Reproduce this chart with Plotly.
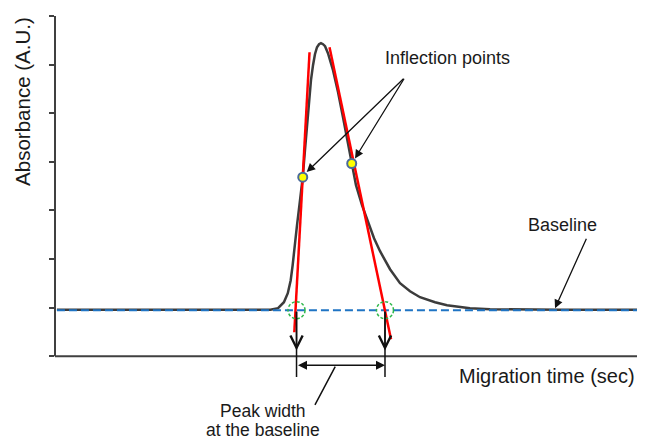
import plotly.graph_objects as go

# ---- data (time in arbitrary s, absorbance in A.U.) ----
time = [0.2, 4.6, 9.8, 15.0, 20.1, 22.2, 23.0, 23.6, 24.0, 24.3, 24.5, 24.7, 24.95,
        25.26, 25.54, 25.77, 25.98, 26.19, 26.39, 26.6, 26.8, 27.01, 27.22, 27.42,
        27.63, 27.84, 28.14, 28.66, 29.18, 29.69, 30.1, 30.59, 31.03, 31.65, 32.27,
        32.89, 33.51, 34.54, 35.57, 36.6, 37.63, 39.18, 40.41, 42.78, 44.85, 47.94,
        52.06, 56.19, 60.0]
absorbance = [0.955, 0.96, 0.952, 0.958, 0.955, 0.957, 0.988, 1.111, 1.296, 1.564,
              1.872, 2.284, 2.695, 3.21, 3.683, 4.239, 4.753, 5.267, 5.679, 5.988,
              6.214, 6.358, 6.42, 6.44, 6.42, 6.379, 6.235, 5.885, 5.432, 4.918,
              4.486, 3.965, 3.519, 3.107, 2.757, 2.428, 2.16, 1.79, 1.502, 1.337,
              1.214, 1.111, 1.049, 0.988, 0.967, 0.96, 0.955, 0.958, 0.955]
baseline_level = 0.947
baseline_span = [0.2, 60.0]

inflection_t = [25.54, 30.59]
inflection_a = [3.683, 3.965]

tangent_left_t = [26.24, 24.67]
tangent_left_a = [6.255, 0.494]
tangent_right_t = [28.3, 34.64]
tangent_right_a = [6.358, 0.35]

width_t = [24.9, 34.02]          # intersections of tangents with baseline
y_ticks = [0, 1, 2, 3, 4, 5, 6, 7]
x_range = [0, 60]
y_range = [-1.724, 7]            # extra room below the time axis for annotations

FONT = "Liberation Sans, Arial, sans-serif"
TXT = "#1a1a1a"
AX = "#404040"

fig = go.Figure()
fig.add_trace(go.Scatter(x=time, y=absorbance, mode="lines",
                         line=dict(color="#3c3c3c", width=2.5), hoverinfo="skip"))
fig.add_trace(go.Scatter(x=baseline_span, y=[baseline_level, baseline_level], mode="lines",
                         line=dict(color="#1f74c4", width=2, dash="8px,4px"), hoverinfo="skip"))
fig.add_trace(go.Scatter(x=tangent_left_t, y=tangent_left_a, mode="lines",
                         line=dict(color="#ff0000", width=2.5), hoverinfo="skip"))
fig.add_trace(go.Scatter(x=tangent_right_t, y=tangent_right_a, mode="lines",
                         line=dict(color="#ff0000", width=2.5), hoverinfo="skip"))
fig.add_trace(go.Scatter(x=inflection_t, y=inflection_a, mode="markers",
                         marker=dict(color="#ffff00", size=9,
                                     line=dict(color="#4a6a9a", width=2)),
                         hoverinfo="skip"))

# axis lines (the y range is extended below zero, so draw them explicitly)
zero_frac = (0 - y_range[0]) / (y_range[1] - y_range[0])
fig.add_shape(type="line", xref="paper", yref="paper", x0=0, x1=0, y0=zero_frac, y1=1,
              line=dict(color=AX, width=2))
fig.add_shape(type="line", xref="paper", yref="paper", x0=0, x1=1, y0=zero_frac, y1=zero_frac,
              line=dict(color=AX, width=2))

# green dashed circles at baseline intersections
for t in width_t:
    fig.add_shape(type="circle", xref="x", yref="y", xsizemode="pixel", ysizemode="pixel",
                  xanchor=t, yanchor=baseline_level, x0=-8.5, x1=8.5, y0=-8.5, y1=8.5,
                  line=dict(color="#2eb84a", width=1.5, dash="3px,2px"))

ann = []
def arrow(x, y, ax, ay, head=2, size=1, width=1.5):
    ann.append(dict(x=x, y=y, ax=ax, ay=ay, xref="x", yref="y", axref="x", ayref="y",
                    text="", showarrow=True, arrowhead=head, arrowsize=size,
                    arrowwidth=width, arrowcolor="#111111", standoff=0, startstandoff=0))

# vertical drop lines with open arrowheads
for t in width_t:
    arrow(t, -0.43, t, baseline_level, head=0, width=1.5)
    arrow(t, 0.12, t, baseline_level, head=5, size=1.6, width=1.5)
# horizontal double arrow (peak width)
ann.append(dict(x=width_t[1], y=-0.185, ax=width_t[0], ay=-0.185, xref="x", yref="y",
                axref="x", ayref="y", text="", showarrow=True, arrowhead=2, startarrowhead=2,
                arrowsize=1.2, startarrowsize=1.2, arrowwidth=1.5, arrowcolor="#111111",
                arrowside="end+start", standoff=0, startstandoff=0))
# leader to peak width label
arrow(26.8, -1.0, 28.97, -0.185, head=0, width=1.5)
# inflection arrows
arrow(25.95, 3.79, 36.08, 5.74, head=2, size=1.3, width=1.3)
arrow(30.93, 4.07, 36.08, 5.74, head=2, size=1.3, width=1.3)
# baseline arrow
arrow(51.55, 0.988, 54.85, 2.449, head=2, size=1.3, width=1.3)

def label(x, y, text, size=18, xref="x", angle=0):
    ann.append(dict(x=x, y=y, xref=xref, yref="y", text=text, showarrow=False,
                    textangle=angle, font=dict(family=FONT, size=size, color=TXT),
                    xanchor="center", yanchor="middle"))

label(40.5, 6.13, "Inflection points")
label(52.27, 2.7, "Baseline")
label(21.44, -1.132, "Peak width", size=17.5)
label(21.44, -1.523, "at the baseline", size=17.5)
label(50.7, -0.40, "Migration time (sec)", size=20)
label(-0.057, 5.25, "Absorbance (A.U.)", size=20.5, xref="paper", angle=-90)

# page body has an 8px default margin, so the figure is offset by 8px
fig.update_layout(
    width=638, height=432,
    margin=dict(l=47, r=9, t=8, b=0),
    paper_bgcolor="white", plot_bgcolor="white",
    showlegend=False,
    annotations=ann,
    xaxis=dict(range=x_range, showline=False, showgrid=False, zeroline=False,
               ticks="", showticklabels=False, fixedrange=True),
    yaxis=dict(range=y_range, showline=False, showgrid=False, zeroline=False,
               ticks="outside", ticklen=5, tickwidth=1.5, tickcolor=AX,
               tickvals=y_ticks, showticklabels=False, fixedrange=True),
)
fig.write_html("out.html")
